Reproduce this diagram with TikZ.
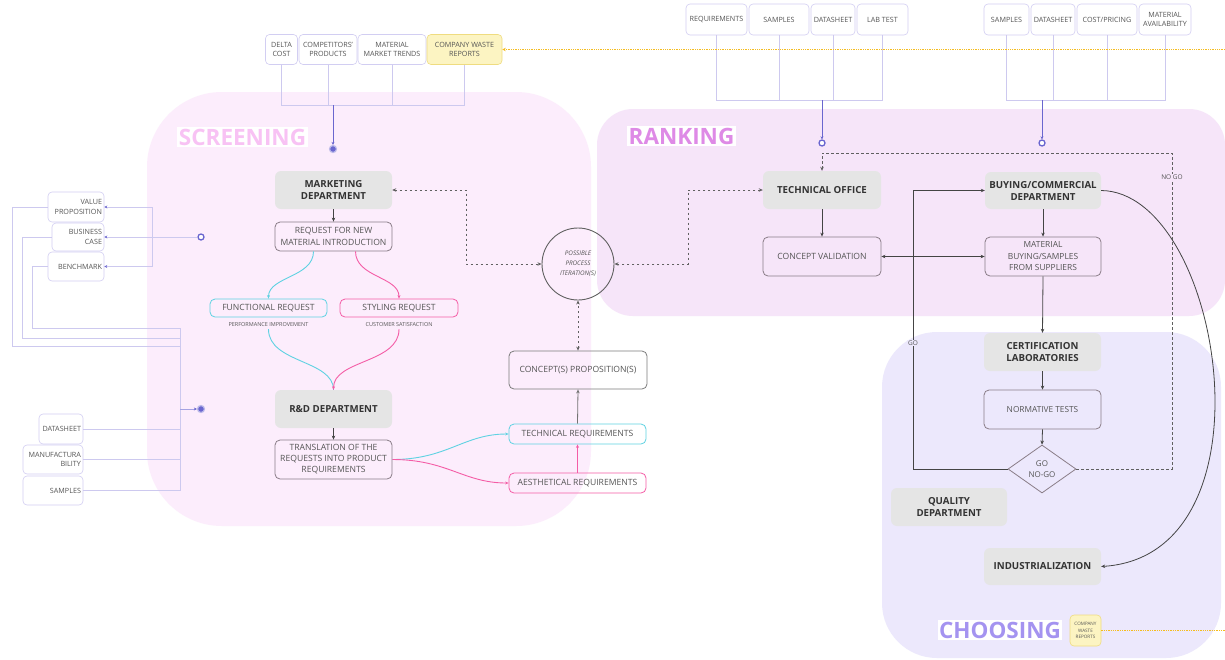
\documentclass[tikz,border=0pt]{standalone}
\usepackage{fontspec}
\setmainfont{Open Sans}
\usetikzlibrary{arrows.meta,shapes.geometric,calc}
\definecolor{screenfill}{HTML}{FCEDFC}
\definecolor{rankfill}{HTML}{F6E5F9}
\definecolor{choosefill}{HTML}{ECE8FC}
\definecolor{grayfill}{HTML}{E5E5E5}
\definecolor{boxborder}{HTML}{8A7D88}
\definecolor{inborder}{HTML}{D2CEF2}
\definecolor{buscol}{HTML}{CDC9EF}
\definecolor{bluecol}{HTML}{6A66CF}
\definecolor{cyancol}{HTML}{5FD2E2}
\definecolor{pinkcol}{HTML}{F45DA6}
\definecolor{yelfill}{HTML}{FCF4C2}
\definecolor{yelborder}{HTML}{EFDC80}
\definecolor{yelline}{HTML}{F5BC1E}
\definecolor{darktext}{HTML}{333333}
\definecolor{midtext}{HTML}{555555}
\definecolor{linecol}{HTML}{444444}
\definecolor{scrtext}{HTML}{F8C2F4}
\definecolor{ranktext}{HTML}{DE8AE6}
\definecolor{chtext}{HTML}{A493F0}
\tikzset{
  gnode/.style={fill=grayfill, rounded corners=6pt, font=\bfseries\fontsize{9.7}{12}\selectfont, text=darktext, align=center, inner sep=2pt},
  wnode/.style={draw=boxborder, line width=0.8pt, rounded corners=5pt, font=\fontsize{8.6}{11.5}\selectfont, text=midtext, align=center, inner sep=2pt},
  inbox/.style={draw=inborder, line width=0.6pt, rounded corners=4pt, font=\fontsize{7.2}{9.5}\selectfont, text=midtext, align=center, inner sep=1pt, fill=white},
  lbox/.style={draw=inborder, line width=0.6pt, rounded corners=4pt, font=\fontsize{7.2}{9.5}\selectfont, text=midtext, align=right, inner xsep=2pt, inner ysep=1pt, fill=white},
  seclabel/.style={fill=white, font=\bfseries\fontsize{22.5}{24}\selectfont, inner sep=1.5pt},
  arr/.style={-{Stealth[length=4pt,width=3.5pt]}, line width=0.8pt, draw=linecol},
  dasharr/.style={{Stealth[length=4pt,width=3.5pt]}-{Stealth[length=4pt,width=3.5pt]}, line width=0.8pt, draw=linecol!85, dash pattern=on 2.5pt off 2.5pt},
  bus/.style={draw=buscol, line width=0.7pt},
  busarr/.style={draw=buscol, line width=0.7pt, -{Stealth[length=3pt,width=3pt,color=bluecol]}},
  bluearr/.style={draw=bluecol, line width=0.8pt, -{Stealth[length=3pt,width=3pt]}},
  ring/.style={circle, draw=bluecol, line width=1.3pt, fill=white, minimum size=6pt, inner sep=0pt},
  fdot/.style={circle, draw=bluecol!45, line width=1.2pt, fill=bluecol, minimum size=7pt, inner sep=0pt},
  yel/.style={draw=yelline, line width=0.9pt, dash pattern=on 1.3pt off 1pt},
  tiny/.style={font=\fontsize{5.5}{6.5}\selectfont, text=midtext, inner sep=0pt},
  lab/.style={font=\fontsize{6.5}{8}\selectfont, text=midtext, inner sep=1pt}
}
\begin{document}
\begin{tikzpicture}[x=1pt,y=-1pt]
\useasboundingbox (0,0) rectangle (1225,659);
\fill[white] (0,0) rectangle (1225,659);
% regions
\fill[screenfill, rounded corners=75pt] (147,92) rectangle (591,526);
\fill[rankfill, rounded corners=36pt] (597,109) rectangle (1225,316);
\fill[choosefill, rounded corners=55pt] (882,332) rectangle (1221,658);
% section labels
\node[seclabel, text=scrtext] (lscr) at (242.5,137) {SCREENING};
\node[seclabel, text=ranktext] (lrank) at (681.5,136) {RANKING};
\node[seclabel, text=chtext] (lchoose) at (1000,630) {CHOOSING};
% screening nodes
\node[gnode, minimum width=117pt, minimum height=38pt] (mkt) at (333.5,190) {MARKETING\\DEPARTMENT};
\node[wnode, minimum width=117pt, minimum height=29pt] (req) at (333.5,236.5) {REQUEST FOR NEW\\MATERIAL INTRODUCTION};
\node[wnode, draw=cyancol, minimum width=117pt, minimum height=18pt, inner ysep=0pt] (func) at (268.5,308) {FUNCTIONAL REQUEST};
\node[wnode, draw=pinkcol, minimum width=118pt, minimum height=18pt, inner ysep=0pt] (sty) at (399,308) {STYLING REQUEST};
\node[tiny] (perf) at (268.5,325) {PERFORMANCE IMPROVEMENT};
\node[tiny] (cust) at (399,325) {CUSTOMER SATISFACTION};
\node[gnode, minimum width=117pt, minimum height=38pt] (rnd) at (333.5,409) {R\&D DEPARTMENT};
\node[wnode, minimum width=117pt, minimum height=39pt, font=\fontsize{8.6}{11}\selectfont] (trans) at (333.5,459.5) {TRANSLATION OF THE\\REQUESTS INTO PRODUCT\\REQUIREMENTS};
\node[wnode, draw=cyancol, minimum width=137pt, minimum height=20pt, inner ysep=0pt] (techreq) at (577.5,434) {TECHNICAL REQUIREMENTS};
\node[wnode, draw=pinkcol, minimum width=137pt, minimum height=20pt, inner ysep=0pt] (aesreq) at (577.5,483) {AESTHETICAL REQUIREMENTS};
\node[wnode, draw=linecol!70, minimum width=138pt, minimum height=38pt] (concept) at (578,370) {CONCEPT(S) PROPOSITION(S)};
\node[circle, draw=linecol!85, line width=0.9pt, minimum size=72pt, inner sep=0pt, align=center, font=\itshape\fontsize{6.3}{10}\selectfont, text=midtext] (circ) at (578,264) {POSSIBLE\\PROCESS\\ITERATION(S)};
% ranking nodes
\node[gnode, minimum width=118pt, minimum height=38pt] (to) at (822,190) {TECHNICAL OFFICE};
\node[wnode, minimum width=118pt, minimum height=39pt] (cv) at (822,256.5) {CONCEPT VALIDATION};
\node[gnode, minimum width=116pt, minimum height=37pt] (buy) at (1043,190.5) {BUYING/COMMERCIAL\\DEPARTMENT};
\node[wnode, minimum width=116pt, minimum height=39pt, font=\fontsize{8.4}{11.5}\selectfont] (mb) at (1043,256.5) {MATERIAL\\BUYING/SAMPLES\\FROM SUPPLIERS};
% choosing nodes
\node[gnode, minimum width=117pt, minimum height=38pt] (cert) at (1042.5,352) {CERTIFICATION\\LABORATORIES};
\node[wnode, minimum width=117pt, minimum height=39pt, font=\fontsize{8.3}{11}\selectfont] (norm) at (1042.5,409.5) {NORMATIVE TESTS};
\node[diamond, draw=boxborder, line width=0.8pt, minimum width=68pt, minimum height=48pt, inner sep=0pt, align=center, font=\fontsize{8}{11}\selectfont, text=midtext] (dia) at (1042,469) {GO\\NO-GO};
\node[gnode, minimum width=116pt, minimum height=38pt] (qual) at (949,507) {QUALITY\\DEPARTMENT};
\node[gnode, minimum width=117pt, minimum height=37pt] (indus) at (1042.5,566.5) {INDUSTRIALIZATION};
\node[inbox, fill=yelfill, draw=yelborder, rounded corners=4pt, minimum width=31pt, minimum height=31pt, font=\fontsize{4.6}{6.5}\selectfont] (cwrb) at (1085.5,630.5) {COMPANY\\WASTE\\REPORTS};
% top-left inputs
\node[inbox, minimum width=32pt, minimum height=30pt] (delta) at (281.5,49.5) {DELTA\\COST};
\node[inbox, minimum width=58pt, minimum height=30pt] (comp) at (328,49.5) {COMPETITORS'\\PRODUCTS};
\node[inbox, minimum width=68pt, minimum height=30pt] (mat) at (392,49.5) {MATERIAL\\MARKET TRENDS};
\node[inbox, fill=yelfill, draw=yelborder, minimum width=75pt, minimum height=30pt] (cwr) at (464.5,49.5) {COMPANY WASTE\\REPORTS};
% top-right inputs group 1
\node[inbox, minimum width=61pt, minimum height=31pt] (reqa) at (716.5,19.5) {REQUIREMENTS};
\node[inbox, minimum width=60pt, minimum height=31pt] (sampa) at (779,19.5) {SAMPLES};
\node[inbox, minimum width=44pt, minimum height=31pt] (dsa) at (833,19.5) {DATASHEET};
\node[inbox, minimum width=51pt, minimum height=31pt] (laba) at (882.5,19.5) {LAB TEST};
% group 2
\node[inbox, minimum width=45pt, minimum height=31pt] (sampb) at (1006.5,19.5) {SAMPLES};
\node[inbox, minimum width=44pt, minimum height=31pt] (dsb) at (1053,19.5) {DATASHEET};
\node[inbox, minimum width=60pt, minimum height=31pt] (costb) at (1107,19.5) {COST/PRICING};
\node[inbox, minimum width=52pt, minimum height=31pt] (matb) at (1165,19.5) {MATERIAL\\AVAILABILITY};
% left inputs
\node[lbox, text width=52pt, minimum height=30pt] (vp) at (76,207) {VALUE\\PROPOSITION};
\node[lbox, text width=48pt, minimum height=28pt] (bc) at (78,237) {BUSINESS\\CASE};
\node[lbox, text width=52pt, minimum height=29pt] (bm) at (76,266.5) {BENCHMARK};
\node[lbox, text width=40pt, minimum height=30pt] (dsl) at (61,429) {DATASHEET};
\node[lbox, text width=56pt, minimum height=29pt] (manl) at (53,459.5) {MANUFACTURA\\BILITY};
\node[lbox, text width=56pt, minimum height=29pt] (sampl) at (53,490.5) {SAMPLES};
% dots and rings
\node[fdot] (dot1) at (333,149) {};
\node[ring] (ring1) at (822,143) {};
\node[ring] (ring2) at (1042,143) {};
\node[ring] (ring3) at (201,237) {};
\node[fdot] (dot2) at (201,409) {};
% bus coordinates
\coordinate (tlbus) at (333,105);
\coordinate (gabus) at (822,100);
\coordinate (gbbus) at (1042,100);
\coordinate (lbus) at (152,237);
\coordinate (lbot) at (180,409);
% top-left bus
\draw[bus] (delta.south) |- (tlbus);
\draw[bus] (comp.south) |- (tlbus);
\draw[bus] (mat.south) |- (tlbus);
\draw[bus] (cwr.south) |- (tlbus);
\draw[bluearr] (tlbus) -- (dot1.north);
% group 1 bus
\draw[bus] (reqa.south) |- (gabus);
\draw[bus] (sampa.south) |- (gabus);
\draw[bus] (dsa.south) |- (gabus);
\draw[bus] (laba.south) |- (gabus);
\draw[bluearr] (gabus) -- (ring1.north);
% group 2 bus
\draw[bus] (sampb.south) |- (gbbus);
\draw[bus] (dsb.south) |- (gbbus);
\draw[bus] (costb.south) |- (gbbus);
\draw[bus] (matb.south) |- (gbbus);
\draw[bluearr] (gbbus) -- (ring2.north);
% left top group
\draw[busarr] (ring3.west) -- (bc.east);
\draw[busarr] (lbus) |- (vp.east);
\draw[busarr] (lbus) |- (bm.east);
\draw[bus] (vp.west) -| (12,346) -- (180,346);
\draw[bus] (bc.west) -| (22,338) -- (180,338);
\draw[bus] (bm.west) -| (32,328) -- (180,328);
\draw[bus] (180,328) -- (180,490.5);
\draw[bus] (dsl.east) -- (dsl.east -| lbot);
\draw[bus] (manl.east) -- (manl.east -| lbot);
\draw[bus] (sampl.east) -- (sampl.east -| lbot);
\draw[busarr, draw=bluecol!60] (lbot) -- (dot2.west);
% yellow dotted
\draw[yel, -{Stealth[length=3.5pt,width=3.5pt]}] (1225,49.5) -- (cwr.east);
\draw[yel] (cwrb.east) -- (1225,630.5);
% screening connectors
\draw[arr] (mkt.south) -- (req.north);
\draw[cyancol, line width=0.9pt, -{Stealth[length=3.5pt,width=3pt]}] ([xshift=-20pt]req.south) .. controls +(0,26) and +(0,-22) .. (func.north);
\draw[pinkcol, line width=0.9pt, -{Stealth[length=3.5pt,width=3pt]}] ([xshift=22pt]req.south) .. controls +(0,26) and +(0,-22) .. (sty.north);
\draw[cyancol, line width=0.9pt] (perf.south) ++(0,2) .. controls +(0,34) and +(0,-30) .. (rnd.north);
\draw[pinkcol, line width=0.9pt, -{Stealth[length=3.5pt,width=3pt]}] (cust.south) ++(0,2) .. controls +(0,34) and +(0,-30) .. (rnd.north);
\draw[arr] (rnd.south) -- (trans.north);
\draw[cyancol, line width=0.9pt, -{Stealth[length=3.5pt,width=3pt]}] (trans.east) .. controls +(55,0) and +(-45,0) .. (techreq.west);
\draw[pinkcol, line width=0.9pt, -{Stealth[length=3.5pt,width=3pt]}] (trans.east) .. controls +(55,0) and +(-45,0) .. (aesreq.west);
\draw[pinkcol, line width=0.9pt, -{Stealth[length=3.5pt,width=3pt]}] (aesreq.north) -- (techreq.south);
\draw[arr, draw=linecol!75] (techreq.north) -- (concept.south);
\draw[dasharr] (concept.north) -- (circ.south);
\draw[dasharr] (mkt.east) -- (466,190) |- (circ.west);
\draw[dasharr] (to.west) -- (688,190) |- (circ.east);
% ranking connectors
\draw[arr] (to.south) -- (cv.north);
\draw[arr, {Stealth[length=4pt,width=3.5pt]}-{Stealth[length=4pt,width=3.5pt]}] (cv.east) -- (mb.west);
\draw[arr] (buy.south) -- (mb.north);
\draw[arr] (mb.south) -- (cert.north);
\draw[arr] (cert.south) -- (norm.north);
\draw[arr] (norm.south) -- (dia.north);
\draw[arr] (dia.west) -| (913,190.5) -- (buy.west);
\node[lab, fill=choosefill] (golab) at (913,343) {GO};
\draw[line width=0.8pt, draw=linecol!85, dash pattern=on 2.5pt off 2.5pt, -{Stealth[length=4pt,width=3.5pt]}] (dia.east) -- (1172,469) -- (1172,153) -- (822,153) -- (to.north);
\node[lab, fill=rankfill] (nogolab) at (1172,177) {NO GO};
\draw[arr] (buy.east) .. controls (1222,192) and (1280,555) .. (indus.east);
\end{tikzpicture}
\end{document}
